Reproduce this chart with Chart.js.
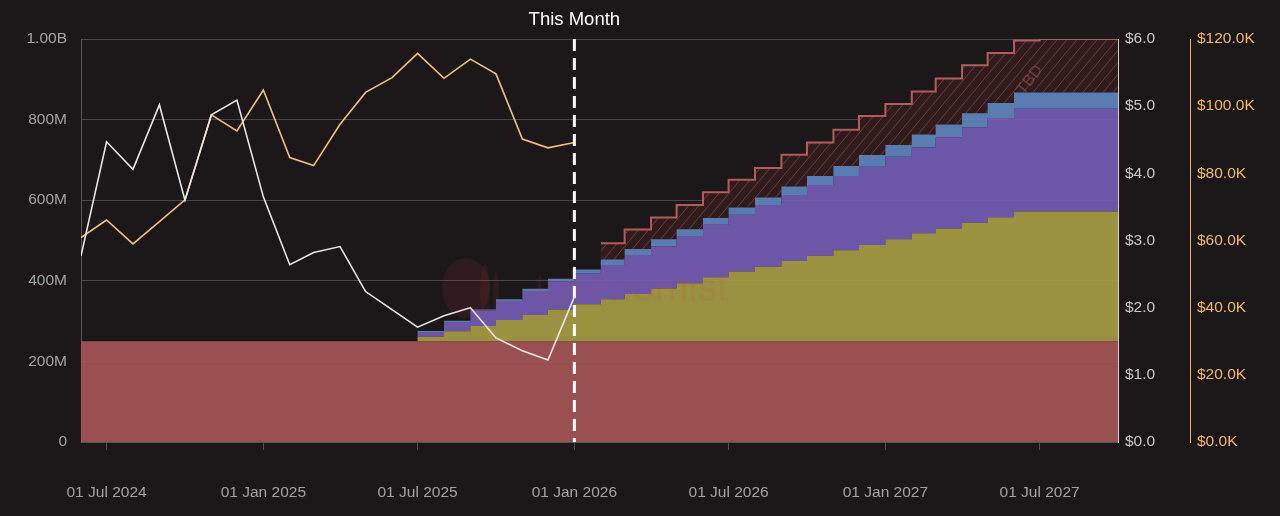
<!DOCTYPE html>
<html>
<head>
<meta charset="utf-8">
<script src="https://cdn.jsdelivr.net/npm/chart.js@4.4.1/dist/chart.umd.min.js"></script>
<style>
  html, body { margin: 0; padding: 0; background: #1c1819; }
  #chart { display: block; }
</style>
</head>
<body>
<canvas id="chart" width="1280" height="516"></canvas>
<script>
// month starts, Jun 2024 .. Oct 2027 (last one only closes the steps)
const months = [
  '2024-06', '2024-07', '2024-08', '2024-09', '2024-10', '2024-11', '2024-12',
  '2025-01', '2025-02', '2025-03', '2025-04', '2025-05', '2025-06', '2025-07',
  '2025-08', '2025-09', '2025-10', '2025-11', '2025-12', '2026-01', '2026-02',
  '2026-03', '2026-04', '2026-05', '2026-06', '2026-07', '2026-08', '2026-09',
  '2026-10', '2026-11', '2026-12', '2027-01', '2027-02', '2027-03', '2027-04',
  '2027-05', '2027-06', '2027-07', '2027-08', '2027-09', '2027-10'
];

// supply layers, millions of tokens
const baseSupply = [
  250, 250, 250, 250, 250, 250, 250, 250, 250, 250, 250, 250, 250, 250,
  250, 250, 250, 250, 250, 250, 250, 250, 250, 250, 250, 250, 250, 250,
  250, 250, 250, 250, 250, 250, 250, 250, 250, 250, 250, 250, 250
];
const yellowSupply = [
  0, 0, 0, 0, 0, 0, 0, 0, 0, 0, 0, 0, 0, 11,
  25, 38, 53, 65, 79, 92, 104, 117, 131, 144, 159, 173, 185, 199,
  212, 226, 239, 253, 268, 280, 294, 308, 322, 322, 322, 322, 322
];
const purpleSupply = [
  0, 0, 0, 0, 0, 0, 0, 0, 0, 0, 0, 0, 0, 12,
  23, 38, 47, 60, 70, 76, 85, 97, 105, 117, 130, 141, 153, 164,
  176, 184, 194, 205, 213, 226, 237, 246, 255, 255, 255, 255, 255
];
const blueSupply = [
  0, 0, 0, 0, 0, 0, 0, 0, 0, 0, 0, 0, 0, 2.5,
  3, 3, 4, 5, 6, 10, 14, 15, 17, 17, 17, 18, 19, 21,
  22, 25, 29, 29, 32, 32, 35, 37, 40, 40, 40, 40, 40
];
const tbdSupply = [
  null, null, null, null, null, null, null, null, null, null, null, null, null, null,
  null, null, null, null, null, null, 40, 48, 54, 60, 64, 69, 73, 79,
  83, 90, 97, 102, 107, 114, 119, 124, 129, 133, 133, 133, 133
];

// price lines, Jun 2024 .. Jan 2026
const tokenPrice = [
  2.77, 4.47, 4.06, 5.02, 3.60, 4.87, 5.09, 3.65, 2.64, 2.82,
  2.91, 2.24, 1.97, 1.71, 1.88, 2.00, 1.55, 1.36, 1.22, 2.16
];
// thousands of dollars
const btcPrice = [
  60.9, 66.1, 59.0, 65.6, 72.1, 97.4, 92.6, 104.8, 84.7, 82.3,
  94.6, 104.1, 108.5, 115.7, 108.3, 114.0, 109.6, 90.2, 87.6, 89.2
];

const xTickDates = ['2024-07', '2025-01', '2025-07', '2026-01', '2026-07', '2027-01', '2027-07'];
const supplyTicks = [0, 200, 400, 600, 800, 1000];
const thisMonth = '2026-01';

const monthNames = ['Jan', 'Feb', 'Mar', 'Apr', 'May', 'Jun', 'Jul', 'Aug', 'Sep', 'Oct', 'Nov', 'Dec'];
const tickFont = { family: '"Liberation Sans", Arial, sans-serif', size: 15.5 };

const toTs = (m) => {
  const [y, mo] = m.split('-').map(Number);
  return Date.UTC(y, mo - 1, 1);
};
const fmtDate = (ts) => {
  const d = new Date(ts);
  return String(d.getUTCDate()).padStart(2, '0') + ' ' + monthNames[d.getUTCMonth()] + ' ' + d.getUTCFullYear();
};
const series = (vals) => vals.map((v, i) => ({ x: toTs(months[i]), y: v }));

const canvas = document.getElementById('chart');
const ctx = canvas.getContext('2d');

// hatch fill for the TBD block
const makeHatch = () => {
  const tile = document.createElement('canvas');
  tile.width = 10;
  tile.height = 12;
  const g = tile.getContext('2d');
  g.fillStyle = '#301c1d';
  g.fillRect(0, 0, 10, 12);
  g.strokeStyle = '#6e3c3c';
  g.lineWidth = 1;
  g.beginPath();
  g.moveTo(-10, 12); g.lineTo(0, 0);
  g.moveTo(0, 12); g.lineTo(10, 0);
  g.moveTo(10, 12); g.lineTo(20, 0);
  g.stroke();
  return ctx.createPattern(tile, 'repeat');
};

const bgPlugin = {
  id: 'bg',
  beforeDraw(chart) {
    const c = chart.ctx;
    c.save();
    c.fillStyle = '#1c1819';
    c.fillRect(0, 0, chart.width, chart.height);
    c.restore();
  }
};

const overlayPlugin = {
  id: 'overlay',
  afterDatasetsDraw(chart) {
    const c = chart.ctx;
    const area = chart.chartArea;
    const x = chart.scales.x.getPixelForValue(toTs(thisMonth));

    // faint watermark
    c.save();
    c.fillStyle = 'rgba(200, 60, 70, 0.1)';
    c.beginPath();
    c.ellipse(466, 288, 24, 30, 0, 0, Math.PI * 2);
    c.fill();
    c.beginPath();
    c.ellipse(485, 290, 5, 26, 0, 0, Math.PI * 2);
    c.fill();
    c.beginPath();
    c.ellipse(496, 292, 3, 20, 0, 0, Math.PI * 2);
    c.fill();
    c.font = '40px "Liberation Sans", Arial, sans-serif';
    c.textBaseline = 'middle';
    c.fillText('tokenomist', 535, 290);
    c.restore();

    // TBD label
    c.save();
    c.translate(1030, 80);
    c.rotate(-Math.PI / 3.4);
    c.fillStyle = 'rgba(170, 90, 90, 0.5)';
    c.font = '16px "Liberation Sans", Arial, sans-serif';
    c.textAlign = 'center';
    c.textBaseline = 'middle';
    c.fillText('TBD', 0, 0);
    c.restore();

    // this month marker
    c.save();
    c.strokeStyle = '#ffffff';
    c.lineWidth = 3;
    c.setLineDash([12, 7]);
    c.beginPath();
    c.moveTo(x, area.top);
    c.lineTo(x, area.bottom);
    c.stroke();
    c.setLineDash([]);
    c.fillStyle = '#ffffff';
    c.font = '18.5px "Liberation Sans", Arial, sans-serif';
    c.textAlign = 'center';
    c.textBaseline = 'middle';
    c.fillText('This Month', x, 20);
    c.restore();
  }
};

const areaSet = (label, data, color, fill) => ({
  label,
  data: series(data),
  yAxisID: 'y',
  backgroundColor: color,
  borderWidth: 0,
  pointRadius: 0,
  stepped: 'before',
  fill
});

new Chart(canvas, {
  type: 'line',
  data: {
    datasets: [
      {
        label: 'Price',
        data: series(tokenPrice),
        yAxisID: 'y1',
        borderColor: '#e8e6e6',
        borderWidth: 1.6,
        pointRadius: 0,
        fill: false
      },
      {
        label: 'BTC',
        data: series(btcPrice),
        yAxisID: 'y2',
        borderColor: '#f2c07c',
        borderWidth: 1.6,
        pointRadius: 0,
        fill: false
      },
      areaSet('Base', baseSupply, 'rgba(168, 86, 86, 0.9)', 'origin'),
      areaSet('Yellow', yellowSupply, 'rgba(170, 160, 70, 0.9)', '-1'),
      areaSet('Purple', purpleSupply, 'rgba(117, 93, 184, 0.9)', '-1'),
      areaSet('Blue', blueSupply, 'rgba(97, 136, 193, 0.9)', '-1'),
      {
        label: 'TBD',
        data: series(tbdSupply),
        yAxisID: 'y',
        backgroundColor: makeHatch(),
        borderColor: '#b35c5c',
        borderWidth: 2,
        pointRadius: 0,
        stepped: 'before',
        fill: '-1'
      }
    ]
  },
  options: {
    responsive: false,
    animation: false,
    layout: { padding: { top: 39, left: 0, right: 0, bottom: 0 } },
    plugins: {
      legend: { display: false },
      tooltip: { enabled: false }
    },
    scales: {
      x: {
        type: 'linear',
        min: toTs(months[0]),
        max: toTs(months[months.length - 1]),
        afterBuildTicks: (scale) => {
          scale.ticks = xTickDates.map((m) => ({ value: toTs(m) }));
        },
        afterFit: (scale) => { scale.height = 74; },
        grid: { drawOnChartArea: false, color: '#4f4f4f', tickLength: 8 },
        border: { color: '#555555' },
        ticks: {
          autoSkip: false,
          maxRotation: 0,
          padding: 33,
          color: '#a3a3a3',
          font: tickFont,
          callback: (v) => fmtDate(v)
        }
      },
      y: {
        position: 'left',
        stacked: true,
        min: 0,
        max: 1000,
        afterBuildTicks: (scale) => {
          scale.ticks = supplyTicks.map((v) => ({ value: v }));
        },
        afterFit: (scale) => { scale.width = 81; },
        grid: { color: '#4a4646', drawTicks: false },
        border: { color: '#5a5656' },
        ticks: {
          padding: 14,
          color: '#a3a3a3',
          font: tickFont,
          callback: (v) => (v === 0 ? '0' : v >= 1000 ? (v / 1000).toFixed(2) + 'B' : v + 'M')
        }
      },
      y1: {
        position: 'right',
        min: 0,
        max: 6,
        afterFit: (scale) => { scale.width = 72; },
        grid: { drawOnChartArea: false, drawTicks: false },
        border: { color: '#d8cfcf' },
        ticks: {
          stepSize: 1,
          padding: 7,
          color: '#c8c8c8',
          font: tickFont,
          callback: (v) => '$' + v.toFixed(1)
        }
      },
      y2: {
        position: 'right',
        min: 0,
        max: 120,
        afterFit: (scale) => { scale.width = 90; },
        grid: { drawOnChartArea: false, drawTicks: false },
        border: { color: '#f2b866' },
        ticks: {
          stepSize: 20,
          padding: 7,
          color: '#f2b866',
          font: tickFont,
          callback: (v) => '$' + v.toFixed(1) + 'K'
        }
      }
    }
  },
  plugins: [bgPlugin, overlayPlugin]
});
</script>
</body>
</html>
